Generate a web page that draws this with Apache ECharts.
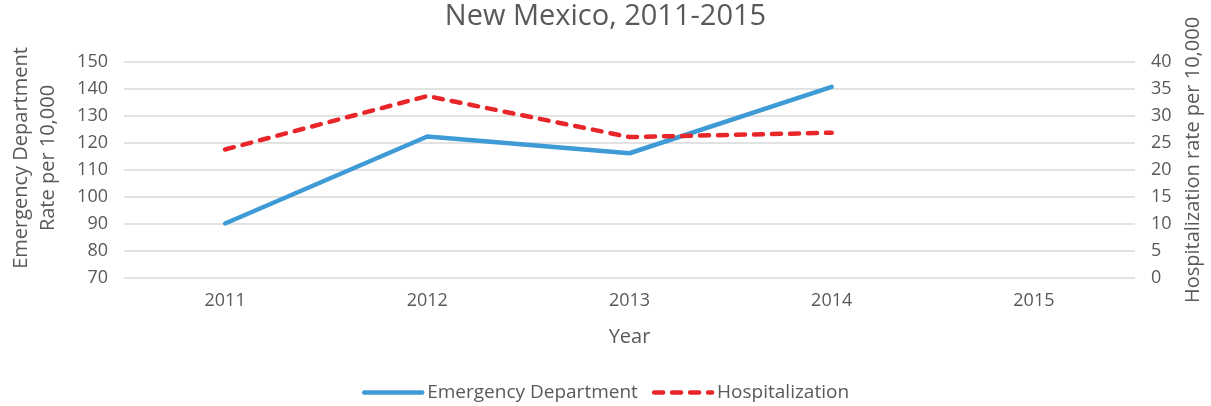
<!DOCTYPE html>
<html>
<head>
<meta charset="utf-8">
<script src="https://cdn.jsdelivr.net/npm/echarts@6/dist/echarts.min.js"></script>
<style>
  html, body { margin: 0; padding: 0; background: #fff; }
  #chart { width: 1211px; height: 406px; }
</style>
</head>
<body>
<div id="chart"></div>
<script>
// categories and series
const years = ['2011', '2012', '2013', '2014', '2015'];
const edRate = [90.2, 122.4, 116.2, 140.8, null];
const hospRate = [23.8, 33.7, 26.1, 26.9, null];

const textColor = '#595959';
const font = '"Open Sans", "Noto Sans", sans-serif';

const chart = echarts.init(document.getElementById('chart'));

chart.setOption({
  animation: false,
  textStyle: { fontFamily: font, color: textColor },
  title: {
    text: 'New Mexico, 2011-2015',
    left: 'center',
    top: -3,
    textStyle: { fontFamily: font, fontSize: 29, fontWeight: 'normal', color: textColor }
  },
  legend: {
    bottom: -1,
    left: 'center',
    itemWidth: 58,
    itemHeight: 10,
    itemGap: 14,
    textStyle: { fontFamily: font, fontSize: 19, color: textColor, padding: [0, 0, 0, 0] },
    itemStyle: { opacity: 0 },
    lineStyle: { width: 4.5 },
    data: ['Emergency Department', 'Hospitalization']
  },
  grid: { left: 117, right: 70, top: 62, bottom: 128 },
  xAxis: {
    type: 'category',
    data: years,
    boundaryGap: true,
    name: 'Year',
    nameLocation: 'middle',
    nameGap: 49,
    nameTextStyle: { fontSize: 20, color: textColor },
    axisLine: { show: false },
    axisTick: { show: false },
    axisLabel: { fontSize: 18, color: textColor, margin: 14 }
  },
  yAxis: [
    {
      type: 'value',
      min: 70,
      max: 150,
      interval: 10,
      name: 'Emergency Department\nRate per 10,000',
      nameLocation: 'middle',
      nameGap: 62,
      nameTextStyle: { fontSize: 20, color: textColor, lineHeight: 27, padding: [0, 0, 0, 24] },
      axisLine: { show: false },
      axisTick: { show: false },
      axisLabel: { fontSize: 18, color: textColor, margin: 16 },
      splitLine: { lineStyle: { color: '#d9d9d9', width: 1.5 } }
    },
    {
      type: 'value',
      min: 0,
      max: 40,
      interval: 5,
      name: 'Hospitalization rate per 10,000',
      nameLocation: 'middle',
      nameGap: 48,
      nameTextStyle: { fontSize: 20, color: textColor, padding: [0, 0, 0, 20] },
      axisLine: { show: false },
      axisTick: { show: false },
      axisLabel: { fontSize: 18, color: textColor, margin: 16 },
      splitLine: { show: false }
    }
  ],
  series: [
    {
      name: 'Emergency Department',
      type: 'line',
      yAxisIndex: 0,
      data: edRate,
      symbol: 'none',
      itemStyle: { color: '#3F9BD6' },
      lineStyle: { color: '#3F9BD6', width: 4.5, cap: 'round' }
    },
    {
      name: 'Hospitalization',
      type: 'line',
      yAxisIndex: 1,
      data: hospRate,
      symbol: 'none',
      itemStyle: { color: '#E8262A' },
      lineStyle: { color: '#E8262A', width: 4.5, type: [9, 9], cap: 'round' }
    }
  ]
});
</script>
</body>
</html>
